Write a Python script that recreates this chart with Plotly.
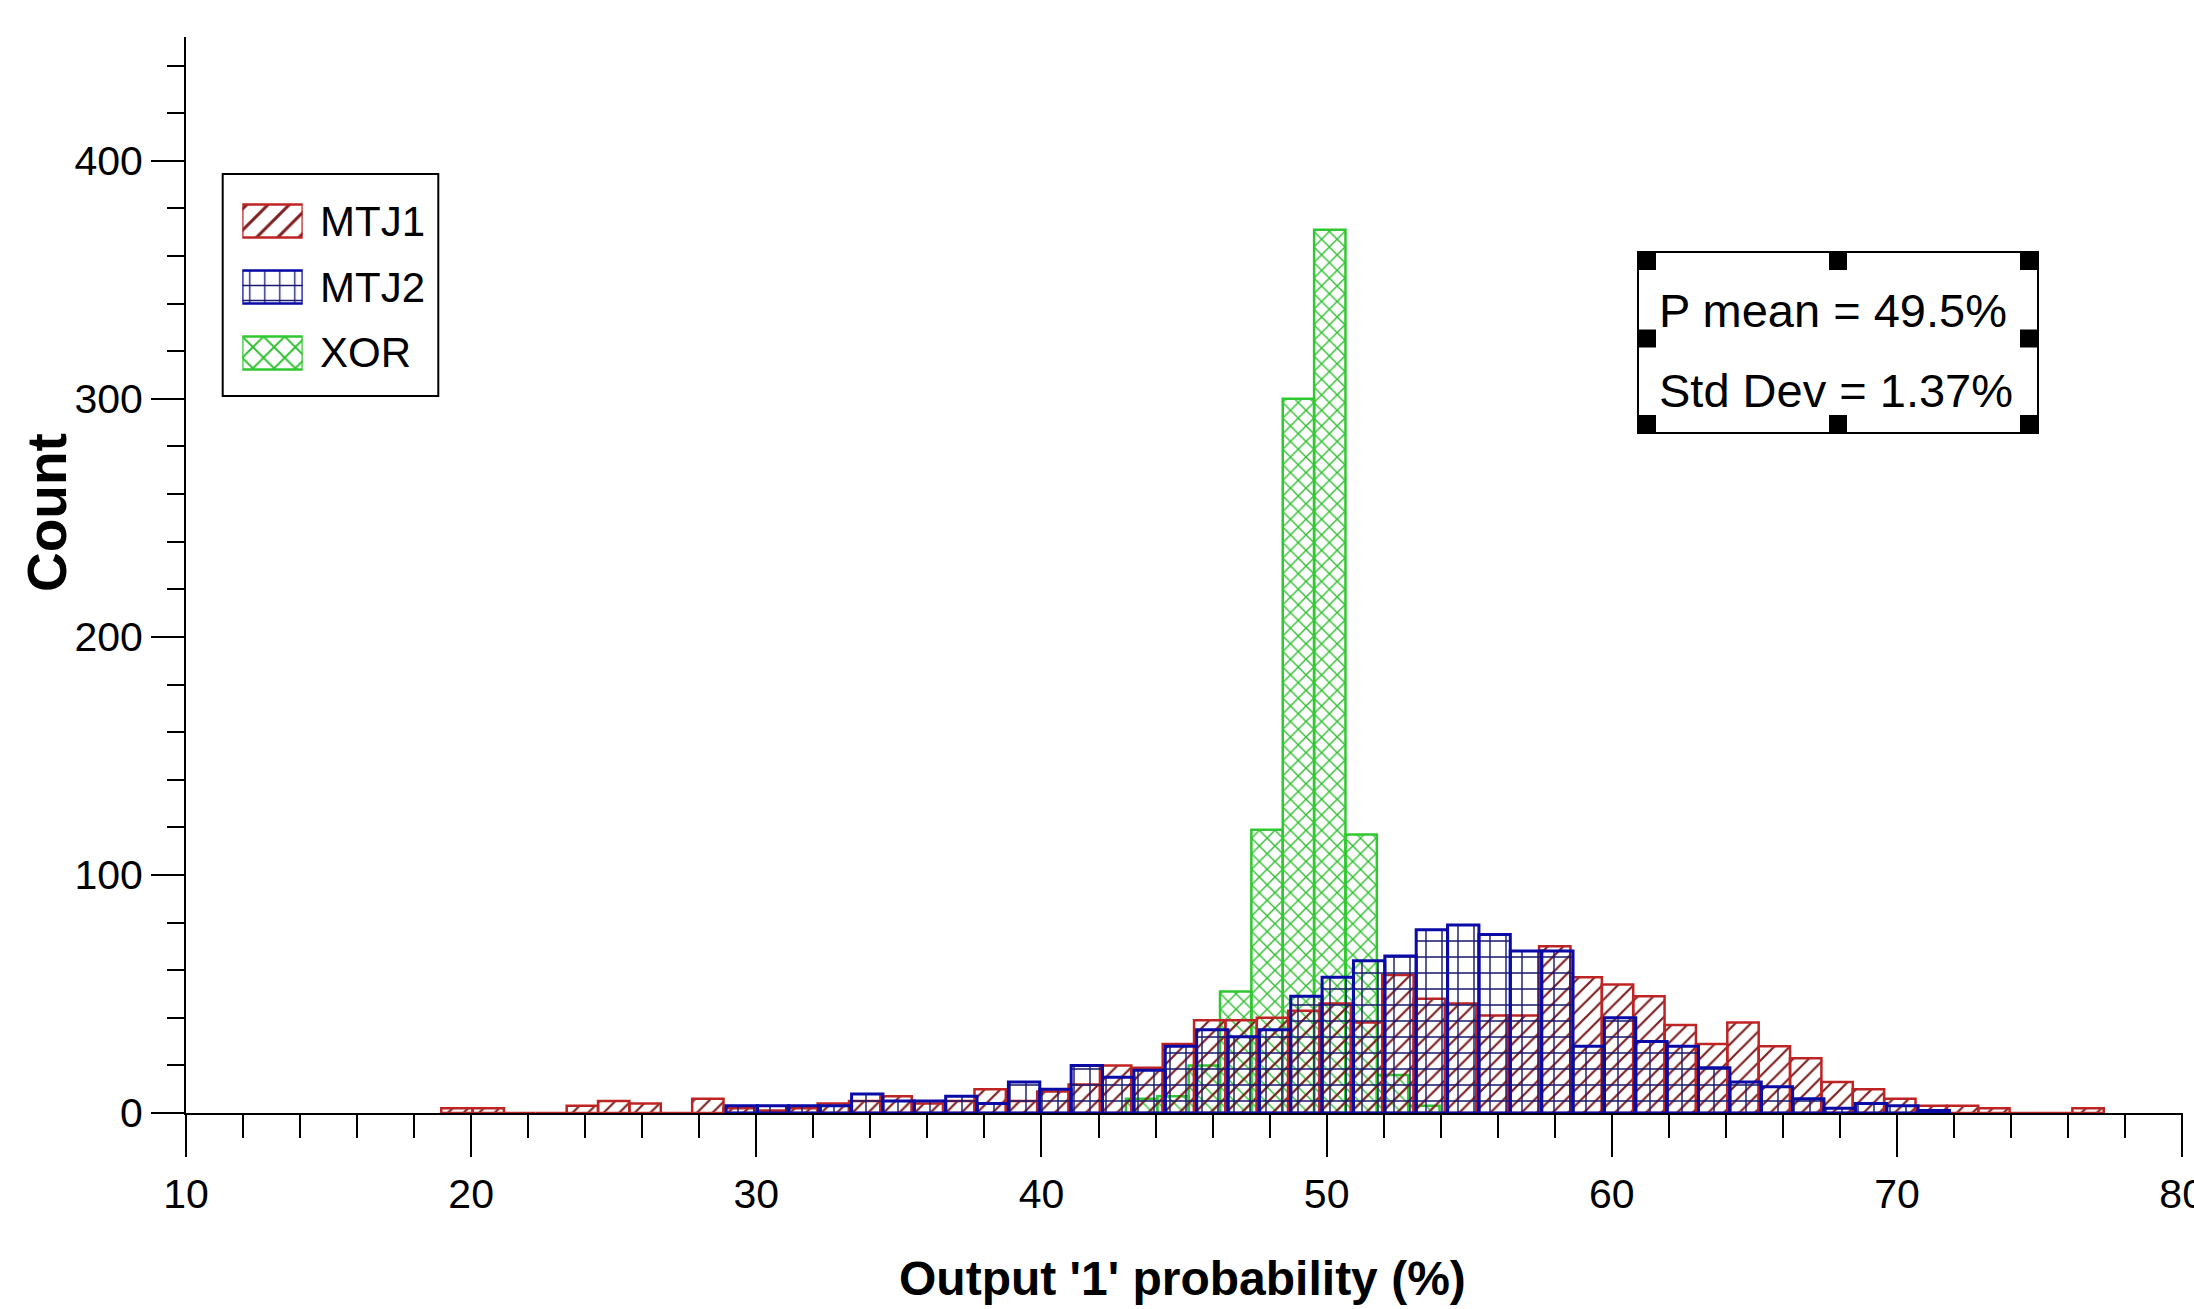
import plotly.graph_objects as go

# ---- histogram data: counts per bin, each series with its own first bin edge ----
series_names = ["MTJ1", "MTJ2", "XOR"]
bin_width = 1.1

mtj1_first_edge = 18.95
mtj1_counts = [2, 2, 0, 0, 3, 5, 4, 0, 6, 2,
               1, 2, 4, 5, 7, 4, 5, 10, 5, 9,
               12, 20, 19, 29, 39, 39, 40, 43, 46, 38,
               58, 48, 46, 41, 41, 70, 57, 54, 49, 37,
               29, 38, 28, 23, 13, 10, 6, 3, 3, 2,
               0, 0, 2]

mtj2_first_edge = 28.94
mtj2_counts = [3, 3, 3, 3, 8, 5, 5, 7, 4, 13,
               10, 20, 15, 18, 28, 35, 32, 35, 49, 57,
               64, 66, 77, 79, 75, 68, 68, 28, 40, 30,
               28, 19, 13, 11, 6, 2, 4, 3, 1]

xor_first_edge = 42.96
xor_counts = [6, 7, 20, 51, 119, 300, 371, 117, 16, 3]

stats_lines = ["P mean = 49.5%", "Std Dev = 1.37%"]
x_ticks = [10, 20, 30, 40, 50, 60, 70, 80]
y_ticks = [0, 100, 200, 300, 400]

# ---- page geometry ----
W, H = 2194, 1309
L, R, T, B = 186, 11, 37, 196
PW, PH = W - L - R, H - T - B


def px(x):
    return (x - L) / PW


def py(y):
    return (H - B - y) / PH


styles = {
    "MTJ1": dict(line="#bf2424", fg="#7e1f1f", shape="/", size=11, sol=0.2,
                 lsize=15, lw=2.5),
    "MTJ2": dict(line="#0a0aa6", fg="#18186e", shape="+", size=16, sol=0.17,
                 lsize=15, lw=3),
    "XOR": dict(line="#30c830", fg="#2fbf2f", shape="x", size=11, sol=0.24,
                lsize=15, lw=2.5),
}

data = {
    "MTJ1": (mtj1_first_edge, mtj1_counts),
    "MTJ2": (mtj2_first_edge, mtj2_counts),
    "XOR": (xor_first_edge, xor_counts),
}

fig = go.Figure()

for name in ["XOR", "MTJ1", "MTJ2"]:
    first, counts = data[name]
    st = styles[name]
    centers = [first + (i + 0.5) * bin_width for i in range(len(counts))]
    fig.add_trace(go.Bar(
        x=centers, y=counts, width=bin_width, name=name, showlegend=False,
        marker=dict(
            color="rgba(0,0,0,0)",
            line=dict(color=st["line"], width=st["lw"]),
            pattern=dict(shape=st["shape"], size=st["size"], solidity=st["sol"],
                         fgcolor=st["fg"], bgcolor="rgba(0,0,0,0)",
                         fillmode="replace"),
        ),
        hoverinfo="skip",
    ))

# ---- legend keys drawn in a small inset axis ----
for row, name in enumerate(series_names):
    st = styles[name]
    fig.add_trace(go.Bar(
        x=[1], y=[row], base=0, width=0.5, orientation="h", showlegend=False,
        xaxis="x2", yaxis="y2", hoverinfo="skip",
        marker=dict(
            color="rgba(0,0,0,0)",
            line=dict(color=st["line"], width=2.5),
            pattern=dict(shape=st["shape"], size=st["lsize"], solidity=st["sol"],
                         fgcolor=st["fg"], bgcolor="rgba(0,0,0,0)",
                         fillmode="replace"),
        ),
    ))

tick_font = dict(family="Liberation Sans, Arial", size=41, color="black")
legend_font = dict(family="Liberation Sans, Arial", size=42, color="black")
xtitle_font = dict(family="Liberation Sans, Arial", size=48, color="black")
ytitle_font = dict(family="Liberation Sans, Arial", size=55, color="black")
stats_font = dict(family="Liberation Sans, Arial", size=47, color="black")

fig.update_layout(
    width=W, height=H,
    margin=dict(l=L, r=R, t=T, b=B, pad=0, autoexpand=False),
    paper_bgcolor="white", plot_bgcolor="white",
    barmode="overlay",
    showlegend=False,
    xaxis=dict(
        range=[10, 80.03], tickvals=x_ticks, ticktext=[str(v) for v in x_ticks],
        showline=True, linecolor="black", linewidth=2,
        ticks="outside", ticklen=42, tickwidth=2, tickcolor="black",
        minor=dict(dtick=2, ticks="outside", ticklen=23, tickwidth=2,
                   tickcolor="black"),
        showgrid=False, zeroline=False, tickfont=tick_font, automargin=False,
        ticklabelstandoff=2, ticklabeloverflow="allow", fixedrange=True,
    ),
    yaxis=dict(
        range=[0, 452], tickvals=y_ticks, ticktext=[str(v) for v in y_ticks],
        showline=True, linecolor="black", linewidth=2,
        ticks="outside", ticklen=33, tickwidth=2, tickcolor="black",
        minor=dict(dtick=20, ticks="outside", ticklen=17, tickwidth=2,
                   tickcolor="black"),
        showgrid=False, zeroline=False, tickfont=tick_font, automargin=False,
        ticklabelstandoff=0, fixedrange=True,
    ),
    xaxis2=dict(domain=[px(242.3), px(302.7)], range=[0, 1], anchor="y2",
                visible=False, fixedrange=True),
    yaxis2=dict(domain=[py(386), py(188)], range=[2.5, -0.5], anchor="x2",
                visible=False, fixedrange=True),
)

shapes = []
# legend frame
shapes.append(dict(type="rect", xref="paper", yref="paper",
                   x0=px(222.7), x1=px(438.3), y0=py(396), y1=py(174),
                   line=dict(color="black", width=2), fillcolor="rgba(0,0,0,0)"))
# statistics box with its selection handles
bx0, bx1, by0, by1 = 1638, 2038, 252, 433
shapes.append(dict(type="rect", xref="paper", yref="paper",
                   x0=px(bx0), x1=px(bx1), y0=py(by1), y1=py(by0),
                   line=dict(color="black", width=2), fillcolor="rgba(0,0,0,0)"))
hs = 18
hx = [bx0, (bx0 + bx1) / 2 - hs / 2, bx1 - hs]
hy = [by0, 338.5 - hs / 2, by1 - hs]
for j, yy in enumerate(hy):
    for i, xx in enumerate(hx):
        if i == 1 and j == 1:
            continue
        shapes.append(dict(type="rect", xref="paper", yref="paper",
                           x0=px(xx), x1=px(xx + hs), y0=py(yy + hs), y1=py(yy),
                           line=dict(width=0), fillcolor="black"))
fig.update_layout(shapes=shapes)

annotations = []
legend_rows_y = [222, 287.5, 352.5]
for name, yy in zip(series_names, legend_rows_y):
    annotations.append(dict(text=name, xref="paper", yref="paper",
                            x=px(318), y=py(yy), xanchor="left", yanchor="middle",
                            showarrow=False, font=legend_font))
for txt, yy in zip(stats_lines, [310, 390]):
    annotations.append(dict(text=txt, xref="paper", yref="paper",
                            x=px(1657), y=py(yy), xanchor="left", yanchor="middle",
                            showarrow=False, font=stats_font))
annotations.append(dict(text="<b>Output '1' probability (%)</b>", xref="paper",
                        yref="paper", x=px(1182), y=py(1279), xanchor="center",
                        yanchor="middle", showarrow=False, font=xtitle_font))
annotations.append(dict(text="<b>Count</b>", xref="paper", yref="paper",
                        x=px(47), y=py(513), xanchor="center", yanchor="middle",
                        textangle=-90, showarrow=False, font=ytitle_font))
fig.update_layout(annotations=annotations)

fig.write_html("out.html")
